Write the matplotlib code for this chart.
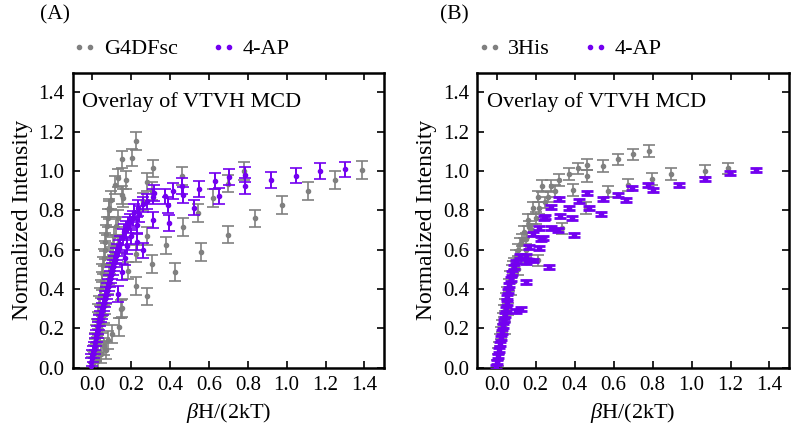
import numpy as np
import matplotlib
matplotlib.use("Agg")
import matplotlib.pyplot as plt

# values (x = beta H / 2kT, y = normalized intensity)
a_gray_x = [0.000, 0.005, 0.008, 0.012, 0.015, 0.020, 0.024, 0.028, 0.032, 0.036,
            0.040, 0.044, 0.048, 0.052, 0.056, 0.060, 0.064, 0.068, 0.072, 0.076,
            0.080, 0.085, 0.089, 0.098, 0.115, 0.132, 0.152, 0.175, 0.204, 0.226,
            0.010, 0.020, 0.030, 0.040, 0.050, 0.060, 0.066, 0.072, 0.080, 0.086,
            0.092, 0.098, 0.105, 0.112, 0.120, 0.132, 0.132, 0.157, 0.154, 0.260,
            0.306, 0.281, 0.312,
            0.030, 0.045, 0.063, 0.072, 0.080, 0.100, 0.140, 0.149, 0.154, 0.183,
            0.226, 0.226, 0.283, 0.281, 0.306, 0.380, 0.425, 0.466, 0.463, 0.543,
            0.560, 0.620, 0.700, 0.700, 0.780, 0.838, 0.977, 1.112, 1.249, 1.386]
a_gray_y = [0.010, 0.040, 0.070, 0.100, 0.130, 0.170, 0.200, 0.240, 0.280, 0.320,
            0.360, 0.400, 0.440, 0.480, 0.520, 0.560, 0.600, 0.640, 0.680, 0.720,
            0.760, 0.800, 0.811, 0.853, 0.930, 0.965, 1.059, 0.956, 1.068, 1.154,
            0.030, 0.080, 0.120, 0.170, 0.220, 0.270, 0.320, 0.370, 0.420, 0.470,
            0.520, 0.570, 0.620, 0.670, 0.720, 0.759, 0.630, 0.862, 0.879, 0.845,
            0.900, 0.944, 1.013,
            0.040, 0.070, 0.108, 0.091, 0.142, 0.170, 0.206, 0.297, 0.305, 0.494,
            0.416, 0.580, 0.362, 0.668, 0.528, 0.622, 0.485, 0.717, 0.974, 0.785,
            0.588, 0.862, 0.677, 0.936, 1.000, 0.759, 0.828, 0.897, 0.955, 1.006]
a_gray_err = 0.045

a_purple_x = [-0.008, -0.004, 0.000, 0.004, 0.008, 0.012, 0.016, 0.020, 0.024, 0.028,
              0.032, 0.036, 0.040, 0.045, 0.050, 0.055, 0.060, 0.065, 0.070, 0.075,
              0.080, 0.085, 0.090, 0.095, 0.100, 0.106, 0.112, 0.118, 0.124, 0.130,
              0.137, 0.145, 0.157, 0.165, 0.175, 0.185, 0.192, 0.209, 0.215, 0.235,
              0.243, 0.260, 0.281, 0.170, 0.180, 0.200,
              0.132, 0.151, 0.231, 0.231, 0.260, 0.312, 0.315, 0.320, 0.372, 0.389,
              0.394, 0.418, 0.461, 0.466, 0.526, 0.548, 0.629, 0.654, 0.706, 0.787,
              0.787, 0.920, 1.049, 1.172, 1.302]
a_purple_y = [0.010, 0.030, 0.050, 0.070, 0.090, 0.110, 0.130, 0.150, 0.170, 0.190,
              0.210, 0.230, 0.250, 0.270, 0.290, 0.310, 0.330, 0.350, 0.370, 0.390,
              0.410, 0.430, 0.450, 0.470, 0.490, 0.510, 0.530, 0.550, 0.570, 0.590,
              0.610, 0.630, 0.665, 0.690, 0.705, 0.725, 0.742, 0.759, 0.790, 0.811,
              0.780, 0.830, 0.845, 0.560, 0.620, 0.670,
              0.374, 0.485, 0.640, 0.725, 0.596, 0.751, 0.870, 0.888, 0.871, 0.828,
              0.734, 0.897, 0.922, 0.879, 0.814, 0.910, 0.948, 0.874, 0.969, 0.922,
              0.982, 0.955, 0.977, 0.999, 1.008]
a_purple_err = 0.04

b_gray_x = [0.000, 0.004, 0.008, 0.012, 0.016, 0.020, 0.025, 0.030, 0.036, 0.042,
            0.048, 0.055, 0.062, 0.070, 0.078, 0.085, 0.091, 0.100, 0.110, 0.120,
            0.130, 0.151, 0.140, 0.168, 0.160, 0.185, 0.211, 0.219, 0.233, 0.262,
            0.279, 0.318, 0.370, 0.416, 0.462, 0.545, 0.621, 0.699, 0.784,
            0.211, 0.336, 0.390, 0.459, 0.462, 0.570, 0.673, 0.798, 0.896, 1.067, 1.186,
            0.040, 0.060, 0.075, 0.110, 0.150, 0.180, 0.200, 0.250, 0.300]
b_gray_y = [0.010, 0.040, 0.070, 0.100, 0.140, 0.177, 0.210, 0.250, 0.290, 0.320,
            0.348, 0.380, 0.420, 0.460, 0.490, 0.510, 0.528, 0.570, 0.600, 0.630,
            0.650, 0.656, 0.690, 0.716, 0.750, 0.811, 0.870, 0.811, 0.922, 0.870,
            0.922, 0.956, 0.985, 1.013, 1.033, 1.025, 1.059, 1.084, 1.102,
            0.545, 0.708, 0.904, 0.811, 0.973, 0.896, 0.930, 0.961, 0.985, 1.002, 1.013,
            0.200, 0.300, 0.400, 0.500, 0.600, 0.700, 0.760, 0.840, 0.900]
b_gray_err = 0.03

b_purple_x = [-0.003, 0.000, 0.005, 0.010, 0.015, 0.020, 0.025, 0.030, 0.035, 0.040,
              0.045, 0.050, 0.055, 0.060, 0.065, 0.072, 0.080, 0.090, 0.100, 0.117,
              0.100, 0.125, 0.151, 0.151, 0.151, 0.168, 0.185, 0.185, 0.219, 0.219,
              0.228, 0.236, 0.245, 0.250, 0.267, 0.276, 0.279, 0.313, 0.318, 0.326,
              0.370, 0.387, 0.399, 0.421, 0.462, 0.473, 0.536, 0.545, 0.622, 0.661,
              0.695, 0.776, 0.801, 0.933, 1.067, 1.195, 1.329]
b_purple_y = [0.005, 0.030, 0.060, 0.090, 0.120, 0.150, 0.180, 0.210, 0.240, 0.270,
              0.300, 0.330, 0.360, 0.390, 0.420, 0.450, 0.480, 0.510, 0.540, 0.570,
              0.290, 0.297, 0.434, 0.536, 0.570, 0.613, 0.545, 0.682, 0.608, 0.708,
              0.656, 0.660, 0.762, 0.768, 0.514, 0.816, 0.708, 0.699, 0.856, 0.773,
              0.814, 0.759, 0.677, 0.848, 0.888, 0.814, 0.780, 0.858, 0.879, 0.853,
              0.913, 0.927, 0.904, 0.930, 0.961, 0.989, 1.006]
b_purple_err = 0.01

GRAY = '#808080'
PURPLE = '#7300f0'

plt.rcParams['font.family'] = ['Liberation Serif', 'DejaVu Serif']
plt.rcParams['mathtext.fontset'] = 'custom'
plt.rcParams['mathtext.rm'] = 'Liberation Serif'
plt.rcParams['mathtext.it'] = 'Liberation Serif:italic'


def draw_panel(ax, gx, gy, gerr, glabel, px, py, perr, pcap):
    ax.errorbar(gx, gy, yerr=gerr, fmt='o', ms=3, color=GRAY, ecolor=GRAY,
                elinewidth=1.2, capsize=4, capthick=1.2, zorder=2)
    ax.errorbar(px, py, yerr=perr, fmt='o', ms=3, color=PURPLE, ecolor=PURPLE,
                elinewidth=1.4, capsize=4, capthick=pcap, zorder=3)
    # legend handles: just the dots
    ax.plot([], [], 'o', ms=3, color=GRAY, label=glabel)
    ax.plot([], [], 'o', ms=3, color=PURPLE, label='4-AP')
    ax.legend(loc='lower left', bbox_to_anchor=(0.0, 1.045), ncol=2, frameon=False,
              numpoints=2, handlelength=1.1, handletextpad=0.3, columnspacing=1.5,
              fontsize=16, borderaxespad=0, borderpad=0)
    ax.set_xlim(-0.1, 1.5)
    ax.set_ylim(0, 1.5)
    ax.set_xticks(np.arange(0, 1.41, 0.2))
    ax.set_yticks(np.arange(0, 1.41, 0.2))
    ax.tick_params(direction='in', top=True, right=True, length=5, width=1.2,
                   labelsize=15, pad=6)
    for s in ax.spines.values():
        s.set_linewidth(1.8)
    ax.text(0.03, 0.9, 'Overlay of VTVH MCD', transform=ax.transAxes,
            fontsize=16, va='center', ha='left')
    ax.set_xlabel(r'$\it{\beta}$H/(2kT)', fontsize=16)
    ax.set_ylabel('Normalized Intensity', fontsize=17)


fig = plt.figure(figsize=(8, 4.36), dpi=100)
ax1 = fig.add_axes([0.0909, 0.1567, 0.389, 0.6766])
ax2 = fig.add_axes([0.5966, 0.1567, 0.3896, 0.6766])

draw_panel(ax1, a_gray_x, a_gray_y, a_gray_err, 'G4DFsc', a_purple_x, a_purple_y, a_purple_err, 1.2)
draw_panel(ax2, b_gray_x, b_gray_y, b_gray_err, '3His', b_purple_x, b_purple_y, b_purple_err, 2.0)

fig.text(0.05, 0.965, '(A)', fontsize=15.5, ha='left', va='center')
fig.text(0.55, 0.965, '(B)', fontsize=15.5, ha='left', va='center')

fig.savefig('out.png', dpi=100)
